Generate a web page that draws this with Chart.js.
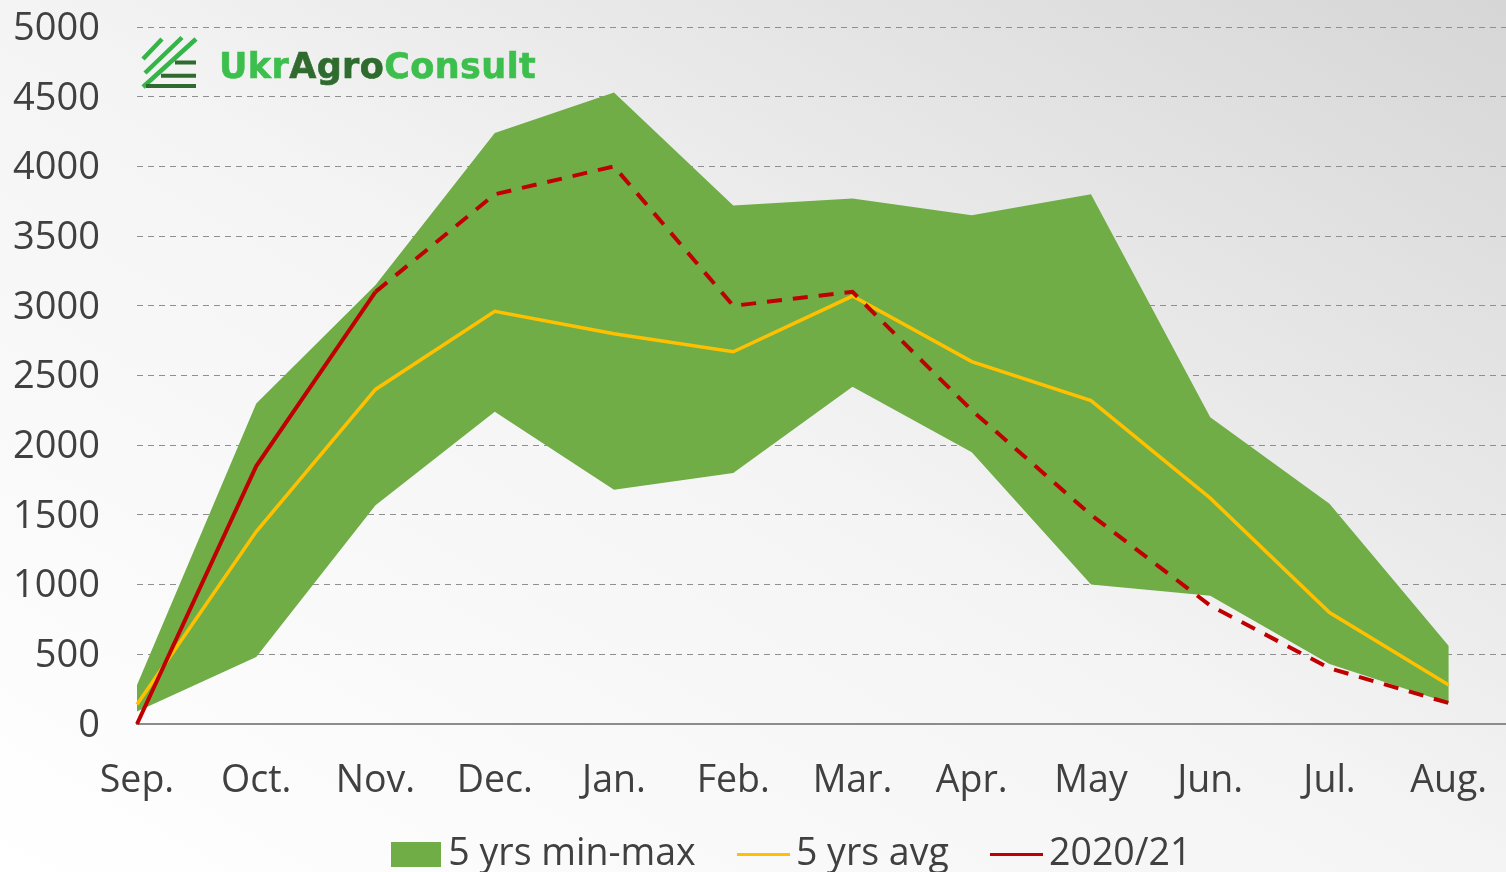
<!DOCTYPE html>
<html><head><meta charset="utf-8">
<script src="https://cdn.jsdelivr.net/npm/chart.js@4"></script>
<style>
html,body{margin:0;padding:0;width:1506px;height:872px;overflow:hidden}
#wrap{position:relative;width:1506px;height:872px;background:linear-gradient(to top right,#ffffff 0%,#f4f4f4 50%,#d6d6d6 100%)}
canvas{display:block}
#logo{position:absolute;left:141px;top:34px;height:60px;width:420px}
#logo span{position:absolute;left:78px;top:12px;font:bold 35px/40px "DejaVu Sans";letter-spacing:.4px;color:#3dbf4e;-webkit-text-stroke:.6px currentColor;white-space:nowrap}
#logo b{color:#2f6b2f}
</style></head>
<body><div id="wrap"><canvas id="c" width="1506" height="872"></canvas>
<div id="logo"><svg width="60" height="60" viewBox="0 0 60 60" style="position:absolute;left:0;top:0">
<g stroke="#35b548" stroke-width="4.5" fill="none"><path d="M2 25 21 5M4 39 41 3.5M2 53 55 5"/></g>
<g stroke="#2f6b2f" stroke-width="4" fill="none"><path d="M34 28.5H55M20 41.7H55M5 52H55"/></g></svg>
<span>Ukr<b>Agro</b>Consult</span></div></div>
<script>
const categories = ['Sep.','Oct.','Nov.','Dec.','Jan.','Feb.','Mar.','Apr.','May','Jun.','Jul.','Aug.'];
const yTicks = [0,500,1000,1500,2000,2500,3000,3500,4000,4500,5000];
const rangeMin = [90,480,1570,2240,1680,1800,2420,1950,1000,920,430,150];
const rangeMax = [280,2300,3150,4240,4530,3720,3770,3650,3800,2200,1580,560];
const avg5y = [140,1380,2400,2960,2800,2670,3070,2600,2320,1620,800,280];
const season2020 = [0,1850,3100,3800,4000,3000,3100,2250,1500,850,400,150];
const solidUntil = 2;

const GREEN='#70ad47', YELLOW='#ffc000', RED='#c00000', TEXT='#404040';
const pts = a => a.map((v,i)=>({x:i,y:v}));
function swatch(w,h,color){const c=document.createElement('canvas');c.width=w;c.height=h;const g=c.getContext('2d');g.fillStyle=color;g.fillRect(0,0,w,h);return c;}
const noPad = s => {s.paddingLeft=0;s.paddingRight=0;s.paddingTop=0;s.paddingBottom=0;};

const FONT={family:'"Open Sans"',size:37.5};
const YFONT={family:'"Open Sans"',size:38};
new Chart(document.getElementById('c'),{
  type:'line',
  data:{datasets:[
    {label:'min',data:pts(rangeMin),borderWidth:0,pointRadius:0,fill:false,backgroundColor:GREEN,borderColor:'transparent',order:3},
    {label:'5 yrs min-max',data:pts(rangeMax),borderWidth:0,pointRadius:0,fill:'-1',backgroundColor:GREEN,borderColor:'transparent',order:3},
    {label:'5 yrs avg',data:pts(avg5y),borderColor:YELLOW,borderWidth:3.5,pointRadius:0,fill:false,order:2,clip:false},
    {label:'2020/21',data:pts(season2020),borderColor:RED,borderWidth:4,pointRadius:0,fill:false,order:1,clip:false,
      segment:{borderDash:c=>c.p0DataIndex>=solidUntil?[15,11]:undefined}}
  ]},
  options:{
    responsive:false,animation:false,
    layout:{padding:{top:27,bottom:0,left:0,right:0}},
    scales:{
      x:{type:'linear',min:0,max:11.48,
        grid:{display:false,drawTicks:false},
        border:{display:true,color:'#8c8c8c',width:2},
        ticks:{stepSize:1,includeBounds:false,autoSkip:false,maxRotation:0,minRotation:0,padding:35,color:TEXT,font:FONT,
          callback:v=>categories[v]??''},
        afterFit:s=>{s.height=88;noPad(s);}
      },
      y:{min:0,max:5000,
        grid:{color:c=>c.tick.value===0?'transparent':'#8f8f8f',lineWidth:1,drawTicks:false},
        border:{display:false,dash:[6,5]},
        ticks:{stepSize:500,padding:37,labelOffset:2,color:TEXT,font:YFONT,autoSkip:false,callback:v=>yTicks.includes(v)?String(v):''},
        afterFit:s=>{s.width=137;noPad(s);}
      }
    },
    plugins:{
      tooltip:{enabled:false},
      legend:{display:true,position:'bottom',align:'center',maxHeight:60,
        labels:{usePointStyle:true,pointStyleWidth:27,boxHeight:24,padding:54.5,color:TEXT,font:FONT,
          generateLabels:ch=>[
            {text:'5 yrs min-max',pointStyle:swatch(50,25,GREEN),fontColor:TEXT,lineWidth:0,datasetIndex:1},
            {text:'5 yrs avg',pointStyle:swatch(53,3,YELLOW),fontColor:TEXT,lineWidth:0,datasetIndex:2},
            {text:'2020/21',pointStyle:swatch(53,3,RED),fontColor:TEXT,lineWidth:0,datasetIndex:3}
          ]}
      }
    }
  },
  plugins:[{id:'legendPlace',afterLayout(ch){const l=ch.legend;l.left+=44;l.right+=44;l.top=781;l.bottom=872;l.height=91;}}]
});
</script></body></html>
